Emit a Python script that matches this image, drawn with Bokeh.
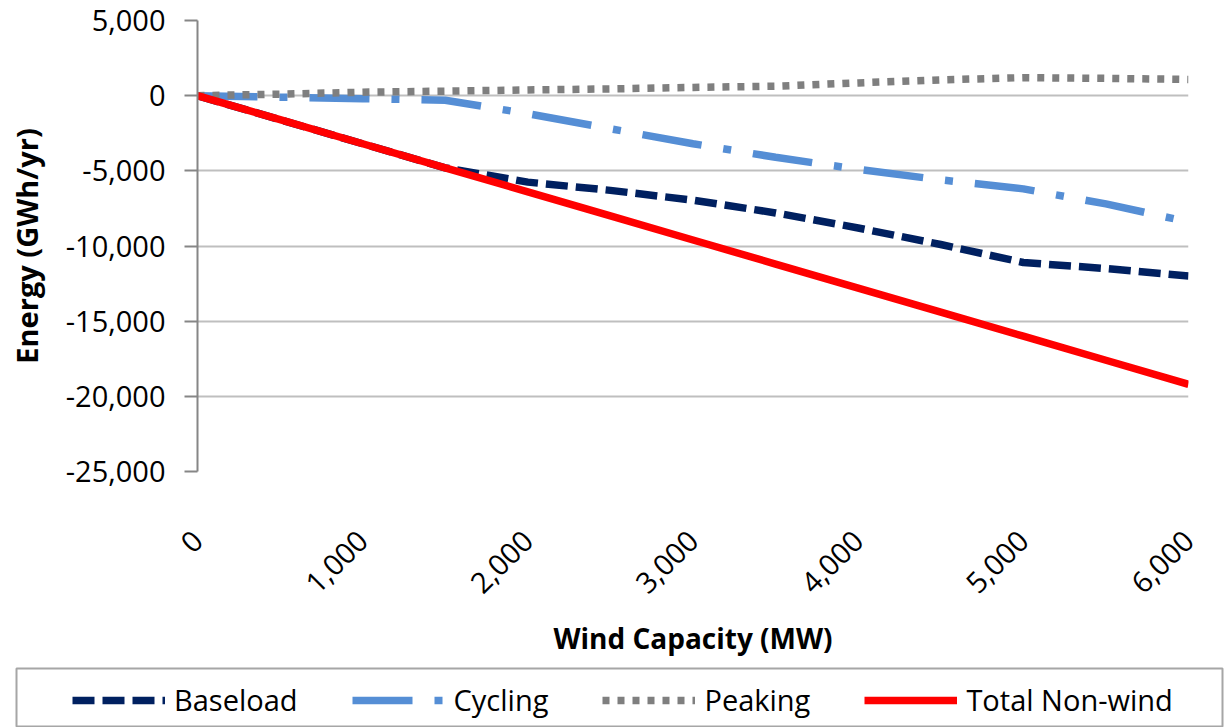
import math
from bokeh.plotting import figure
from bokeh.models import (Legend, LegendItem, FixedTicker, NumeralTickFormatter, Range1d)
from bokeh.embed import file_html
from bokeh.resources import INLINE

# ---- data ----
wind_mw = [0, 500, 1000, 1500, 2000, 2500, 3000, 3500, 4000, 4500, 5000, 5500, 6000]
baseload = [0, -1600, -3200, -4800, -5750, -6300, -6950, -7800, -8800, -9900, -11100, -11500, -12000]
cycling = [0, -100, -200, -300, -1200, -2200, -3200, -4100, -4900, -5600, -6200, -7200, -8400]
peaking = [0, 100, 230, 300, 380, 450, 550, 630, 850, 1050, 1200, 1150, 1080]
total_nonwind = [0, -1600, -3200, -4800, -6400, -8000, -9600, -11200, -12800, -14400, -16000, -17600, -19200]

series_names = ["Baseload", "Cycling", "Peaking", "Total Non-wind"]
series_colors = ["#002060", "#558ED5", "#7F7F7F", "#FF0000"]
series_dashes = ["22 8", "60 22 8 22", "7 8", "solid"]

x_ticks = [0, 1000, 2000, 3000, 4000, 5000, 6000]
y_ticks = [-25000, -20000, -15000, -10000, -5000, 0, 5000]

FONT = "Open Sans"
W = 7.5

H1 = 664
p = figure(width=1224, height=H1, output_backend="svg", toolbar_location=None,
           x_range=Range1d(0, 6000), y_range=Range1d(-25000, 5000),
           min_border_left=197, min_border_right=36, min_border_top=20,
           min_border_bottom=H1 - 471)
p.outline_line_color = None

# grid
p.xgrid.grid_line_color = None
p.ygrid.grid_line_color = "#BFBFBF"
p.ygrid.grid_line_width = 2
p.ygrid.ticker = FixedTicker(ticks=y_ticks)

# y axis
ya = p.yaxis[0]
ya.ticker = FixedTicker(ticks=y_ticks)
ya.formatter = NumeralTickFormatter(format="0,0")
ya.axis_line_color = "#868686"
ya.axis_line_width = 2
ya.major_tick_line_color = "#868686"
ya.major_tick_line_width = 2
ya.major_tick_out = 13
ya.major_tick_in = 0
ya.minor_tick_line_color = None
ya.major_label_text_font = FONT
ya.major_label_text_font_size = "29px"
ya.major_label_text_color = "black"
ya.major_label_standoff = 19
ya.axis_label = "Energy (GWh/yr)"
ya.axis_label_text_font = FONT
ya.axis_label_text_font_size = "29px"
ya.axis_label_text_font_style = "bold"
ya.axis_label_text_color = "black"
ya.axis_label_standoff = 17

# x axis
xa = p.xaxis[0]
xa.ticker = FixedTicker(ticks=x_ticks)
xa.formatter = NumeralTickFormatter(format="0,0")
xa.axis_line_color = None
xa.major_tick_line_color = None
xa.minor_tick_line_color = None
xa.major_label_orientation = math.pi / 4
xa.major_label_text_font = FONT
xa.major_label_text_font_size = "29px"
xa.major_label_text_color = "black"
xa.major_label_standoff = 58
xa.axis_label = "Wind Capacity (MW)"
xa.axis_label_text_font = FONT
xa.axis_label_text_font_size = "28px"
xa.axis_label_text_font_style = "bold"
xa.axis_label_text_color = "black"
xa.axis_label_standoff = 13

all_series = [baseload, cycling, peaking, total_nonwind]
for ys, c, d in zip(all_series, series_colors, series_dashes):
    p.line(wind_mw, ys, line_color=c, line_width=W, line_dash=d)

# ---- legend strip: a second figure whose frame is the legend box ----
H2 = 727 - H1
p2 = figure(width=1224, height=H2, output_backend="svg", toolbar_location=None,
            x_range=Range1d(10000, 10001), y_range=Range1d(0, 1),
            min_border_left=16, min_border_right=2, min_border_top=4, min_border_bottom=0)
p2.axis.visible = False
p2.grid.grid_line_color = None
p2.outline_line_color = "#A6A6A6"
p2.outline_line_width = 2

items = []
for name, ys, c, d in zip(series_names, all_series, series_colors, series_dashes):
    # same series drawn outside this strip's x range: only their legend keys show
    r = p2.line(wind_mw, ys, line_color=c, line_width=W, line_dash=d)
    items.append(LegendItem(label=name, renderers=[r]))

legend = Legend(items=items, orientation="horizontal", location=(56, 8),
                glyph_width=93, glyph_height=30, label_height=30, label_standoff=9,
                spacing=54, padding=0, border_line_color=None, background_fill_alpha=0,
                label_text_font=FONT, label_text_font_size="29px", label_text_color="black")
p2.add_layout(legend, "center")

open("out.html", "w").write(file_html([p, p2], INLINE))
